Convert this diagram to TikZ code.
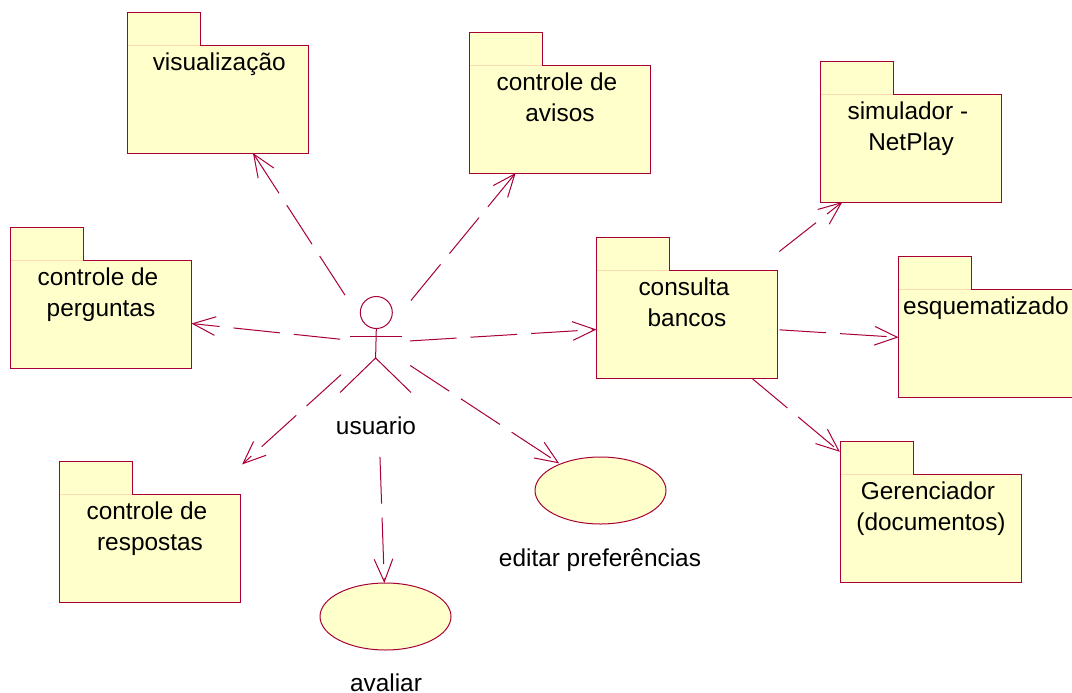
\documentclass[tikz,border=0pt]{standalone}
\usepackage{fontspec}
\setmainfont{Liberation Sans}
\usetikzlibrary{arrows.meta,shapes.geometric,calc}
\definecolor{umlline}{HTML}{A80036}
\definecolor{umlfill}{HTML}{FFFFCB}
\definecolor{umlpale}{HTML}{FFDDB0}
\newcommand{\tsp}{\hspace*{0.25em}}
\tikzset{
  pkgbody/.style={draw=umlline,fill=umlfill,line width=0.75pt,minimum width=135.75pt,minimum height=81pt,inner sep=0pt,outer sep=0pt},
  pkgtab/.style={draw=umlline,fill=umlfill,line width=0.75pt,minimum width=54.75pt,minimum height=24.75pt,inner sep=0pt,outer sep=0pt,anchor=south west},
  usecase/.style={ellipse,draw=umlline,fill=umlfill,line width=0.75pt,minimum width=98.25pt,minimum height=50.25pt,inner sep=0pt,outer sep=0pt},
  label/.style={font=\fontsize{18.3}{23.25}\selectfont,align=center,inner sep=0pt,text=black},
  pkglabel/.style={label,anchor=north,yshift=-6pt},
  dep/.style={draw=umlline,line width=0.75pt,dash pattern=on 35pt off 10.5pt,-{Straight Barb[length=17pt,width=14pt,line width=0.75pt]}},
  actorline/.style={draw=umlline,line width=0.75pt}
}
\newcommand{\pkg}[3]{%
  \node[pkgbody] (#1) at (#2) {};
  \node[pkgtab] (#1tab) at (#1.north west) {};
  \draw[umlpale,line width=0.75pt] ([xshift=0.5pt]#1tab.south west) -- ([xshift=-0.5pt]#1tab.south east);
  \node[pkglabel] (#1label) at (#1.north) {#3};
}
\begin{document}
\begin{tikzpicture}[x=0.75pt,y=-0.75pt]
\clip (0,0) rectangle (1072,693);
\fill[white] (0,0) rectangle (1072,693);
\pkg{vis}{218,99}{\hspace*{0.1em}visualização}
\pkg{avisos}{560,119}{controle de\tsp\\avisos}
\pkg{perg}{101,314}{controle de\tsp\\perguntas}
\pkg{resp}{150,548}{controle de\tsp\\respostas}
\pkg{cons}{687,324}{consulta\tsp\\bancos}
\pkg{sim}{911,148}{simulador -\tsp\\NetPlay}
\pkg{esq}{989,343}{esquematizado\tsp}
\pkg{ger}{931,528}{Gerenciador\tsp\\(documentos)}
\node[usecase] (edit) at (600.5,490.5) {};
\node[usecase] (aval) at (385.5,616.5) {};
\node[label,anchor=base] (editlabel) at (600,566.5) {editar preferências};
\node[label,anchor=base] (avallabel) at (386,691) {avaliar};
\coordinate (actor) at (376,343);
\node[circle,draw=umlline,line width=0.75pt,minimum size=24pt,inner sep=0pt] (head) at (376.3,312.5) {};
\coordinate (neck) at (head.south);
\coordinate (hip) at (375.6,358);
\coordinate (armL) at (350,336.5);
\coordinate (armR) at (402,336.5);
\coordinate (legL) at (340,392.5);
\coordinate (legR) at (411,392.5);
\draw[actorline] (neck) -- (hip);
\draw[actorline] (armL) -- (armR);
\draw[actorline] (legL) -- (hip) -- (legR);
\node[label,anchor=base] (actorlabel) at (376,434) {usuario};
\draw[dep,shorten <=42.75pt] (actor) -- (vis);
\draw[dep,shorten <=41.25pt] (actor) -- (avisos);
\draw[dep,shorten <=27pt] (actor) -- (perg);
\draw[dep,shorten <=35.25pt,shorten >=33pt] (actor) -- (resp);
\draw[dep,shorten <=25.5pt] (actor) -- (cons);
\draw[dep,shorten <=30.75pt,shorten >=1pt] (actor) -- (edit);
\draw[dep,shorten <=85.5pt] (actor) -- (aval);
\draw[dep,shorten <=22.5pt] (cons) -- (sim);
\draw[dep,shorten <=1.5pt] (cons) -- (esq);
\draw[dep,shorten >=26pt] (cons) -- (ger);
\end{tikzpicture}
\end{document}
